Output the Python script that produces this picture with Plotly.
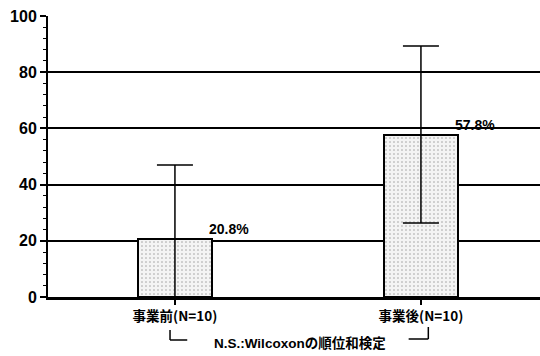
import plotly.graph_objects as go

# 事業前 / 事業後 の平均値と標準偏差
categories = ["事業前(N=10)", "事業後(N=10)"]
means = [20.8, 57.8]
sd = [26.2, 31.5]
value_labels = ["20.8%", "57.8%"]
y_ticks = [0, 20, 40, 60, 80, 100]

W, H = 540, 356
L, R, T, B = 48, 0, 16, 59
plot_h = H - T - B

xpos = list(range(len(categories)))

def py(px):
    """pixel row (from top of page) -> paper y"""
    return (H - B - px) / plot_h

fig = go.Figure()
fig.add_trace(go.Bar(
    x=xpos, y=means, width=0.30,
    marker=dict(
        color="white",
        line=dict(color="black", width=2),
        pattern=dict(shape=".", fgcolor="#444444", bgcolor="#f4f4f4",
                     size=4, solidity=0.12),
    ),
    error_y=dict(type="data", array=sd, symmetric=True,
                 color="black", thickness=1.5, width=18),
    showlegend=False,
))

for x, m, lab in zip(xpos, means, value_labels):
    fig.add_annotation(x=x + 0.13, y=m, text=f"<b>{lab}</b>",
                       xanchor="left", yanchor="bottom", showarrow=False,
                       yshift=0, font=dict(size=14, color="black"))

# bracket and test note under the categories
line = dict(color="black", width=1.5)
fig.add_shape(type="line", xref="x", yref="paper", x0=-0.02, x1=-0.02,
              y0=py(330), y1=py(340), line=line)
fig.add_shape(type="line", xref="x", yref="paper", x0=-0.02, x1=0.05,
              y0=py(340), y1=py(340), line=line)
fig.add_shape(type="line", xref="x", yref="paper", x0=0.95, x1=1.03,
              y0=py(339), y1=py(339), line=line)
fig.add_shape(type="line", xref="x", yref="paper", x0=1.03, x1=1.03,
              y0=py(327), y1=py(339), line=line)
fig.add_annotation(x=0.508, y=py(343), xref="x", yref="paper",
                   text="<b>N.S.:Wilcoxonの順位和検定</b>", showarrow=False,
                   xanchor="center", yanchor="middle",
                   font=dict(size=13.5, color="black"))

fig.update_layout(
    width=W, height=H,
    margin=dict(l=L, r=R, t=T, b=B),
    plot_bgcolor="white", paper_bgcolor="white",
    font=dict(family="Liberation Sans, Noto Sans CJK JP, sans-serif",
              color="black"),
    bargap=0,
)
fig.update_xaxes(
    range=[-0.516, 1.484],
    tickmode="array", tickvals=xpos,
    ticktext=[f"<b>{c}</b>" for c in categories],
    tickfont=dict(size=13.5, family="Noto Sans CJK JP, sans-serif"),
    ticks="outside", ticklen=5, tickwidth=1.5, tickcolor="black",
    showline=True, linecolor="black", linewidth=2.5,
    showgrid=False, zeroline=False,
)
fig.update_yaxes(
    range=[0, 100],
    tickmode="array", tickvals=y_ticks,
    ticktext=[f"<b>{v}</b>" for v in y_ticks],
    tickfont=dict(size=16),
    ticks="outside", ticklen=6, tickwidth=1.5, tickcolor="black",
    minor=dict(dtick=4, ticks="outside", ticklen=3, tickcolor="black",
               tickwidth=1, showgrid=False),
    showline=True, linecolor="black", linewidth=2,
    showgrid=True, gridcolor="black", gridwidth=1.5,
    zeroline=False,
)

fig.write_html("out.html")
